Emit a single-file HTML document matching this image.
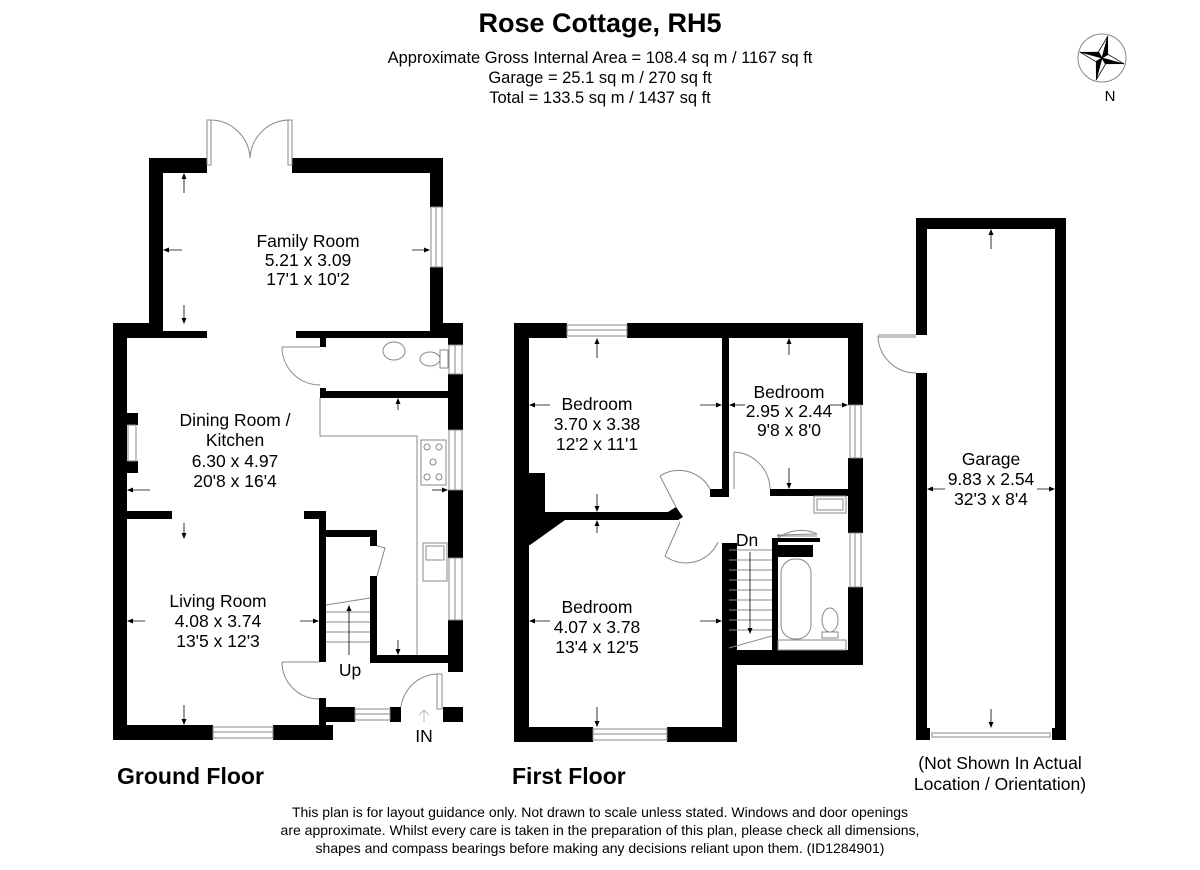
<!DOCTYPE html>
<html><head><meta charset="utf-8"><style>
html,body{margin:0;padding:0;background:#fff;}
svg{display:block;}
text{font-family:"Liberation Sans",Arial,sans-serif;fill:#000;}
</style></head><body>
<svg width="1200" height="870" viewBox="0 0 1200 870" xmlns="http://www.w3.org/2000/svg">
<defs>
<marker id="ah" markerWidth="6" markerHeight="6" refX="5" refY="3" orient="auto" markerUnits="userSpaceOnUse"><path d="M0,0.5 L6,3 L0,5.5z" fill="#000"/></marker>
</defs>
<rect width="1200" height="870" fill="#fff"/>
<!-- Title -->
<text x="600" y="32" font-size="27" font-weight="bold" text-anchor="middle">Rose Cottage, RH5</text>
<text x="600" y="63" font-size="16.5" text-anchor="middle">Approximate Gross Internal Area = 108.4 sq m / 1167 sq ft</text>
<text x="600" y="83" font-size="16.5" text-anchor="middle">Garage = 25.1 sq m / 270 sq ft</text>
<text x="600" y="103" font-size="16.5" text-anchor="middle">Total = 133.5 sq m / 1437 sq ft</text>
<!-- Compass -->
<g transform="translate(1102,58)">
<circle r="24" fill="none" stroke="#888" stroke-width="1"/>
<g transform="rotate(15)">
<path d="M0,-23 L5,-5 L0,0z" fill="#000"/><path d="M0,-23 L-5,-5 L0,0z" fill="#fff" stroke="#000" stroke-width="0.8"/>
<path d="M23,0 L5,5 L0,0z" fill="#000"/><path d="M23,0 L5,-5 L0,0z" fill="#fff" stroke="#000" stroke-width="0.8"/>
<path d="M0,23 L-5,5 L0,0z" fill="#000"/><path d="M0,23 L5,5 L0,0z" fill="#fff" stroke="#000" stroke-width="0.8"/>
<path d="M-23,0 L-5,-5 L0,0z" fill="#000"/><path d="M-23,0 L-5,5 L0,0z" fill="#fff" stroke="#000" stroke-width="0.8"/>
</g>
</g>
<text x="1110" y="101" font-size="15" text-anchor="middle">N</text>

<!-- ================= GROUND FLOOR ================= -->
<g fill="#000">
<rect x="149" y="158" width="58" height="15"/>
<rect x="292" y="158" width="151" height="15"/>
<rect x="149" y="158" width="14" height="180"/>
<rect x="430" y="158" width="13" height="49"/>
<rect x="430" y="267" width="13" height="70"/>
<rect x="113" y="323" width="50" height="15"/>
<rect x="163" y="331" width="44" height="7"/>
<rect x="296" y="331" width="167" height="7"/>
<rect x="430" y="323" width="33" height="15"/>
<rect x="113" y="323" width="14" height="417"/>
<rect x="127" y="413" width="11" height="12"/>
<rect x="127" y="461" width="11" height="12"/>
<rect x="448" y="323" width="15" height="22"/>
<rect x="448" y="374" width="15" height="56"/>
<rect x="448" y="490" width="15" height="68"/>
<rect x="448" y="620" width="15" height="52"/>
<rect x="443" y="707" width="20" height="15"/>
<rect x="320" y="338" width="6" height="9"/>
<rect x="320" y="388" width="6" height="10"/>
<rect x="320" y="391" width="128" height="7"/>
<rect x="127" y="511" width="45" height="8"/>
<rect x="304" y="511" width="22" height="8"/>
<rect x="319" y="511" width="7" height="151"/>
<rect x="319" y="698" width="7" height="27"/>
<rect x="326" y="530" width="51" height="7"/>
<rect x="370" y="530" width="7" height="16"/>
<rect x="370" y="576" width="7" height="87"/>
<rect x="370" y="655" width="93" height="8"/>
<rect x="113" y="725" width="100" height="15"/>
<rect x="273" y="725" width="60" height="15"/>
<rect x="319" y="707" width="36" height="15"/>
<rect x="390" y="707" width="11" height="15"/>
</g>
<g fill="none" stroke="#888" stroke-width="1">
<rect x="431" y="207" width="11" height="60"/><line x1="436" y1="207" x2="436" y2="267"/>
<rect x="449" y="345" width="13" height="29"/><line x1="455" y1="345" x2="455" y2="374"/>
<rect x="449" y="430" width="13" height="60"/><line x1="455" y1="430" x2="455" y2="490"/>
<rect x="449" y="558" width="13" height="62"/><line x1="455" y1="558" x2="455" y2="620"/>
<rect x="213" y="727" width="60" height="11"/><line x1="213" y1="732" x2="273" y2="732"/>
<rect x="355" y="709" width="35" height="11"/><line x1="355" y1="714" x2="390" y2="714"/>
<rect x="128" y="425" width="8" height="36"/>
<rect x="207" y="120" width="4" height="45"/><rect x="288" y="120" width="4" height="45"/>
<path d="M211,120 A40,40 0 0 1 250,158"/><path d="M288,120 A40,40 0 0 0 250,158"/>
<line x1="282" y1="347" x2="320" y2="347"/><path d="M282,347 A38,38 0 0 0 320,385"/>
<path d="M320,398 V436 H417 V655"/>
<rect x="421" y="440" width="25" height="45"/>
<circle cx="427" cy="447" r="3"/><circle cx="439" cy="447" r="3"/><circle cx="433" cy="462" r="3"/><circle cx="427" cy="477" r="3"/><circle cx="439" cy="477" r="3"/>
<rect x="423" y="543" width="24" height="38"/><rect x="426" y="546" width="18" height="14"/>
<ellipse cx="394" cy="351" rx="11" ry="9"/><ellipse cx="430" cy="359" rx="10" ry="7"/><rect x="440" y="350" width="8" height="18"/>
<line x1="326" y1="605" x2="370" y2="598"/>
<line x1="326" y1="612" x2="370" y2="612"/><line x1="326" y1="622" x2="370" y2="622"/><line x1="326" y1="632" x2="370" y2="632"/><line x1="326" y1="642" x2="370" y2="642"/>
<path d="M377,546 L385,548 L377,576"/>
<line x1="282" y1="662" x2="319" y2="662"/><path d="M282,662 A37,37 0 0 0 319,699"/>
<rect x="437" y="674" width="5" height="35"/><path d="M401,707 A38,38 0 0 1 437,674"/>
</g>
<line x1="349" y1="655" x2="349" y2="606" stroke="#000" stroke-width="0.8" marker-end="url(#ah)"/>
<path d="M424,722 V710 M419,715 L424,710 L429,715" fill="none" stroke="#bbb" stroke-width="1"/>
<g stroke="#000" stroke-width="0.8" marker-end="url(#ah)">
<line x1="184" y1="193" x2="184" y2="174"/><line x1="184" y1="305" x2="184" y2="323"/>
<line x1="182" y1="250" x2="164" y2="250"/><line x1="412" y1="250" x2="429" y2="250"/>
<line x1="398" y1="410" x2="398" y2="399"/><line x1="150" y1="490" x2="128" y2="490"/><line x1="432" y1="490" x2="447" y2="490"/>
<line x1="184" y1="523" x2="184" y2="538"/><line x1="184" y1="705" x2="184" y2="724"/>
<line x1="145" y1="621" x2="128" y2="621"/><line x1="300" y1="621" x2="318" y2="621"/>
<line x1="398" y1="640" x2="398" y2="654"/>
</g>
<g font-size="17.5" text-anchor="middle">
<text x="308" y="247">Family Room</text><text x="308" y="266">5.21 x 3.09</text><text x="308" y="285">17'1 x 10'2</text>
<text x="235" y="426">Dining Room /</text><text x="235" y="446">Kitchen</text><text x="235" y="467">6.30 x 4.97</text><text x="235" y="487">20'8 x 16'4</text>
<text x="218" y="607">Living Room</text><text x="218" y="627">4.08 x 3.74</text><text x="218" y="647">13'5 x 12'3</text>
<text x="350" y="676">Up</text><text x="424" y="742">IN</text>
</g>
<text x="117" y="784" font-size="23" font-weight="bold">Ground Floor</text>

<!-- ================= FIRST FLOOR ================= -->
<g fill="#000">
<rect x="514" y="323" width="53" height="15"/>
<rect x="627" y="323" width="236" height="15"/>
<rect x="514" y="323" width="15" height="419"/>
<rect x="848" y="323" width="15" height="82"/>
<rect x="848" y="458" width="15" height="75"/>
<rect x="848" y="587" width="15" height="78"/>
<rect x="722" y="650" width="141" height="15"/>
<rect x="722" y="543" width="15" height="199"/>
<rect x="514" y="727" width="79" height="15"/>
<rect x="667" y="727" width="70" height="15"/>
<rect x="722" y="338" width="7" height="152"/>
<rect x="710" y="489" width="19" height="8"/>
<rect x="770" y="489" width="93" height="7"/>
<rect x="529" y="473" width="16" height="42"/>
<path d="M514,512 L668,512 L676,507 L683,517 L678,520 L670,520 L565,520 L530,545 L514,545z"/>
<rect x="772" y="538" width="6" height="112"/>
<rect x="778" y="545" width="35" height="12"/>
<rect x="778" y="538" width="42" height="4"/>
</g>
<g fill="none" stroke="#888" stroke-width="1">
<rect x="567" y="325" width="60" height="11"/><line x1="567" y1="330" x2="627" y2="330"/>
<rect x="593" y="729" width="74" height="11"/><line x1="593" y1="734" x2="667" y2="734"/>
<rect x="850" y="405" width="11" height="53"/><line x1="855" y1="405" x2="855" y2="458"/>
<rect x="850" y="533" width="11" height="54"/><line x1="855" y1="533" x2="855" y2="587"/>
<path d="M660,476 L676,507"/><path d="M660,476 A35,35 0 0 1 710,489"/>
<path d="M680,522 L665,556"/><path d="M665,556 A35,35 0 0 0 718,542"/>
<path d="M734,452 V489 M734,452 A38,38 0 0 1 770,489"/>
<path d="M778,538 A38,38 0 0 1 817,534 L777,535 M777,536 H817"/>
<line x1="729" y1="550" x2="772" y2="550"/>
<line x1="729" y1="560" x2="772" y2="560"/><line x1="729" y1="570" x2="772" y2="570"/><line x1="729" y1="580" x2="772" y2="580"/><line x1="729" y1="590" x2="772" y2="590"/><line x1="729" y1="600" x2="772" y2="600"/><line x1="729" y1="610" x2="772" y2="610"/><line x1="729" y1="620" x2="772" y2="620"/><line x1="729" y1="630" x2="772" y2="630"/>
<line x1="729" y1="648" x2="772" y2="636"/>
<rect x="781" y="559" width="30" height="80" rx="14"/>
<rect x="814" y="496" width="32" height="17"/><rect x="817" y="499" width="26" height="11"/>
<ellipse cx="830" cy="620" rx="8" ry="12"/><rect x="822" y="632" width="16" height="6"/>
<rect x="778" y="640" width="68" height="10"/>
</g>
<line x1="750" y1="552" x2="750" y2="633" stroke="#000" stroke-width="0.8" marker-end="url(#ah)"/>
<g stroke="#000" stroke-width="0.8" marker-end="url(#ah)">
<line x1="597" y1="358" x2="597" y2="339"/><line x1="550" y1="405" x2="530" y2="405"/><line x1="700" y1="405" x2="721" y2="405"/>
<line x1="597" y1="494" x2="597" y2="511"/><line x1="597" y1="533" x2="597" y2="521"/>
<line x1="550" y1="621" x2="530" y2="621"/><line x1="700" y1="621" x2="721" y2="621"/>
<line x1="597" y1="707" x2="597" y2="726"/>
<line x1="789" y1="355" x2="789" y2="339"/><line x1="789" y1="468" x2="789" y2="488"/>
<line x1="745" y1="405" x2="730" y2="405"/><line x1="830" y1="405" x2="847" y2="405"/>
</g>
<g font-size="17.5" text-anchor="middle">
<text x="597" y="410">Bedroom</text><text x="597" y="430">3.70 x 3.38</text><text x="597" y="450">12'2 x 11'1</text>
<text x="789" y="398">Bedroom</text><text x="789" y="417">2.95 x 2.44</text><text x="789" y="436">9'8 x 8'0</text>
<text x="597" y="613">Bedroom</text><text x="597" y="633">4.07 x 3.78</text><text x="597" y="653">13'4 x 12'5</text>
<text x="747" y="546">Dn</text>
</g>
<text x="512" y="784" font-size="23" font-weight="bold">First Floor</text>

<!-- ================= GARAGE ================= -->
<g fill="#000">
<rect x="916" y="218" width="150" height="11"/>
<rect x="916" y="218" width="11" height="117"/>
<rect x="916" y="373" width="11" height="367"/>
<rect x="1055" y="218" width="11" height="522"/>
<rect x="916" y="728" width="14" height="12"/>
<rect x="1052" y="728" width="14" height="12"/>
</g>
<g fill="none" stroke="#888" stroke-width="1">
<line x1="878" y1="335" x2="916" y2="335"/><line x1="878" y1="337" x2="916" y2="337"/>
<path d="M878,336 A38,38 0 0 0 916,373"/>
<rect x="932" y="733" width="118" height="4"/>
</g>
<g stroke="#000" stroke-width="0.8" marker-end="url(#ah)">
<line x1="991" y1="249" x2="991" y2="230"/><line x1="991" y1="709" x2="991" y2="727"/>
<line x1="945" y1="489" x2="928" y2="489"/><line x1="1037" y1="489" x2="1054" y2="489"/>
</g>
<g font-size="17.5" text-anchor="middle">
<text x="991" y="465">Garage</text><text x="991" y="485">9.83 x 2.54</text><text x="991" y="505">32'3 x 8'4</text>
<text x="1000" y="769">(Not Shown In Actual</text><text x="1000" y="790">Location / Orientation)</text>
</g>

<!-- Footer -->
<g font-size="14" text-anchor="middle">
<text x="600" y="817">This plan is for layout guidance only. Not drawn to scale unless stated. Windows and door openings</text>
<text x="600" y="835">are approximate. Whilst every care is taken in the preparation of this plan, please check all dimensions,</text>
<text x="600" y="853">shapes and compass bearings before making any decisions reliant upon them. (ID1284901)</text>
</g>
</svg>
</body></html>
